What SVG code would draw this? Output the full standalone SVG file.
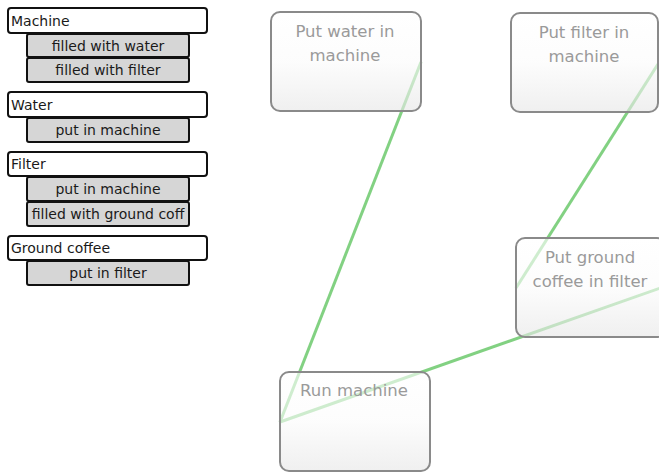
<svg xmlns="http://www.w3.org/2000/svg" width="659" height="473" viewBox="0 0 659 473">
<defs>
<linearGradient id="g" x1="0" y1="0" x2="0" y2="1">
<stop offset="0" stop-color="#ffffff"/>
<stop offset="0.5" stop-color="#fbfbfb"/>
<stop offset="1" stop-color="#e6e6e6"/>
</linearGradient>
<style>
.hdr{fill:#fff;stroke:#111;stroke-width:2}
.sub{fill:#d6d6d6;stroke:#111;stroke-width:2}
.ht{font-family:"DejaVu Sans",Verdana,sans-serif;font-size:14px;fill:#1a1a1a}
.st{font-family:"DejaVu Sans",Verdana,sans-serif;font-size:14px;fill:#1a1a1a;text-anchor:middle}
.node{fill:url(#g);fill-opacity:0.62;stroke:#8a8a8a;stroke-width:2}
.nt{font-family:"DejaVu Sans",Verdana,sans-serif;font-size:16.5px;fill:#9a9a9a;text-anchor:middle}
.edge{stroke:#6cc96c;stroke-width:3;fill:none;stroke-opacity:0.85}
</style>
</defs>
<rect width="659" height="473" fill="#fff"/>
<g id="entity-machine">
<rect class="hdr" x="8" y="8" width="199" height="25" rx="3"/>
<text class="ht" x="11" y="26">Machine</text>
<rect class="sub" x="27" y="34" width="162" height="23" rx="2"/>
<text class="st" x="108" y="51">filled with water</text>
<rect class="sub" x="27" y="58" width="162" height="24" rx="2"/>
<text class="st" x="108" y="75">filled with filter</text>
</g>
<g id="entity-water">
<rect class="hdr" x="8" y="92" width="199" height="25" rx="3"/>
<text class="ht" x="11" y="110">Water</text>
<rect class="sub" x="27" y="118" width="162" height="24" rx="2"/>
<text class="st" x="108" y="135">put in machine</text>
</g>
<g id="entity-filter">
<rect class="hdr" x="8" y="152" width="199" height="24" rx="3"/>
<text class="ht" x="11" y="169">Filter</text>
<rect class="sub" x="27" y="177" width="162" height="24" rx="2"/>
<text class="st" x="108" y="194">put in machine</text>
<rect class="sub" x="27" y="202" width="162" height="24" rx="2"/>
<text class="st" x="108" y="219">filled with ground coff</text>
</g>
<g id="entity-ground-coffee">
<rect class="hdr" x="8" y="236" width="199" height="24" rx="3"/>
<text class="ht" x="11" y="253">Ground coffee</text>
<rect class="sub" x="27" y="261" width="162" height="24" rx="2"/>
<text class="st" x="108" y="278">put in filter</text>
</g>
<g id="connectors">
<line class="edge" x1="421" y1="62" x2="280" y2="422"/>
<line class="edge" x1="658" y1="64" x2="516" y2="288"/>
<line class="edge" x1="666" y1="286" x2="280" y2="422"/>
</g>
<g id="node-put-water">
<rect class="node" x="271" y="12" width="150" height="99" rx="9"/>
<text class="nt" x="345" y="37">Put water in</text>
<text class="nt" x="345" y="61">machine</text>
</g>
<g id="node-put-filter">
<rect class="node" x="511" y="13" width="147" height="99" rx="9"/>
<text class="nt" x="584" y="38">Put filter in</text>
<text class="nt" x="584" y="62">machine</text>
</g>
<g id="node-put-ground-coffee">
<rect class="node" x="516" y="238" width="150" height="99" rx="9"/>
<text class="nt" x="590" y="263">Put ground</text>
<text class="nt" x="590" y="287">coffee in filter</text>
</g>
<g id="node-run-machine">
<rect class="node" x="280" y="372" width="150" height="99" rx="9"/>
<text class="nt" x="354" y="396">Run machine</text>
</g>
</svg>
